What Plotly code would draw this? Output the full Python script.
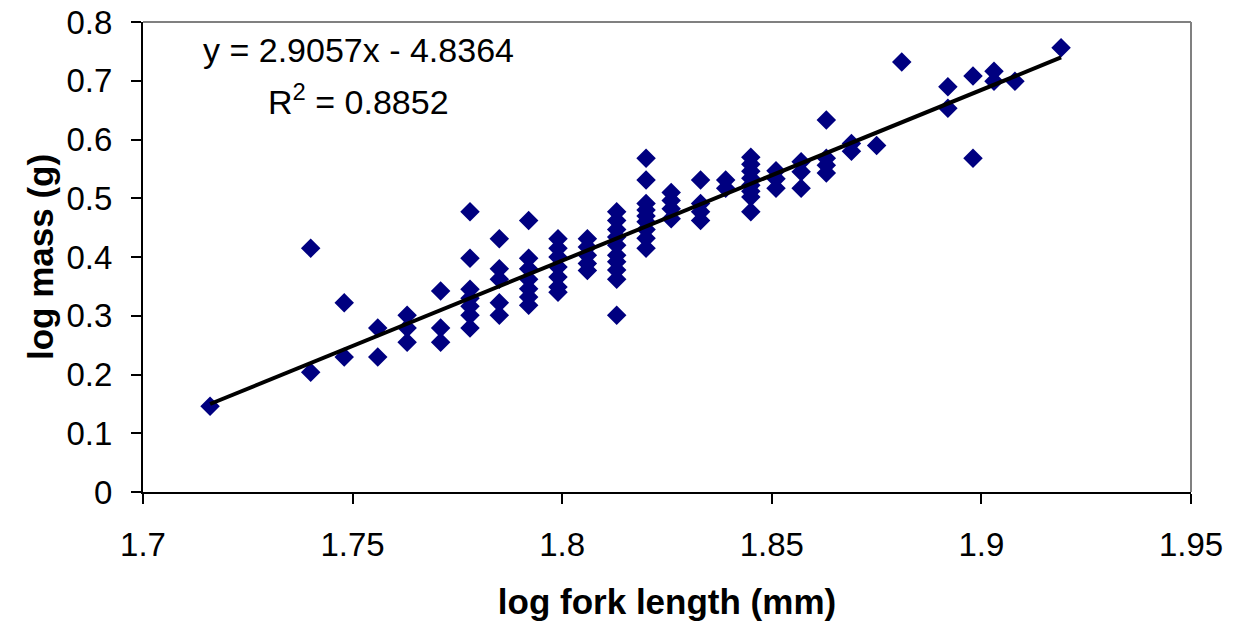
import plotly.graph_objects as go

# Data (log10 fork length in mm, log10 mass in g)
log_fork_length = [
    1.716,
    1.740, 1.740,
    1.748, 1.748,
    1.756, 1.756,
    1.763, 1.763, 1.763,
    1.771, 1.771, 1.771,
    1.778, 1.778, 1.778, 1.778, 1.778, 1.778, 1.778,
    1.785, 1.785, 1.785, 1.785, 1.785,
    1.792, 1.792, 1.792, 1.792, 1.792, 1.792, 1.792,
    1.799, 1.799, 1.799, 1.799, 1.799, 1.799, 1.799,
    1.806, 1.806, 1.806, 1.806, 1.806,
    1.813, 1.813, 1.813, 1.813, 1.813, 1.813, 1.813, 1.813, 1.813, 1.813,
    1.820, 1.820, 1.820, 1.820, 1.820, 1.820, 1.820, 1.820, 1.820,
    1.826, 1.826, 1.826, 1.826,
    1.833, 1.833, 1.833, 1.833,
    1.839, 1.839,
    1.845, 1.845, 1.845, 1.845, 1.845, 1.845, 1.845, 1.845,
    1.851, 1.851, 1.851,
    1.857, 1.857, 1.857,
    1.863, 1.863, 1.863, 1.863,
    1.869, 1.869,
    1.875,
    1.881,
    1.892, 1.892,
    1.898, 1.898,
    1.903, 1.903,
    1.908,
    1.919,
]
log_mass = [
    0.146,
    0.415, 0.204,
    0.322, 0.230,
    0.279, 0.230,
    0.301, 0.279, 0.255,
    0.342, 0.279, 0.255,
    0.477, 0.398, 0.345, 0.330, 0.316, 0.301, 0.279,
    0.431, 0.380, 0.362, 0.322, 0.301,
    0.462, 0.398, 0.380, 0.362, 0.346, 0.332, 0.318,
    0.431, 0.415, 0.400, 0.383, 0.366, 0.349, 0.340,
    0.431, 0.417, 0.403, 0.389, 0.377,
    0.477, 0.462, 0.447, 0.434, 0.420, 0.403, 0.392, 0.378, 0.362, 0.301,
    0.568, 0.531, 0.491, 0.480, 0.470, 0.460, 0.447, 0.432, 0.415,
    0.510, 0.496, 0.482, 0.465,
    0.531, 0.491, 0.477, 0.462,
    0.531, 0.517,
    0.570, 0.558, 0.546, 0.534, 0.522, 0.512, 0.502, 0.477,
    0.547, 0.533, 0.517,
    0.562, 0.545, 0.517,
    0.633, 0.568, 0.556, 0.543,
    0.593, 0.580,
    0.590,
    0.732,
    0.690, 0.653,
    0.708, 0.568,
    0.716, 0.699,
    0.699,
    0.756,
]

# Linear trendline reported on the chart
slope = 2.9057
intercept = -4.8364
r_squared = 0.8852

x_tick_vals = [1.7, 1.75, 1.8, 1.85, 1.9, 1.95]
x_tick_text = ["1.7", "1.75", "1.8", "1.85", "1.9", "1.95"]
y_tick_vals = [0, 0.1, 0.2, 0.3, 0.4, 0.5, 0.6, 0.7, 0.8]
y_tick_text = ["0", "0.1", "0.2", "0.3", "0.4", "0.5", "0.6", "0.7", "0.8"]

FONT = "Liberation Sans, Arial, sans-serif"

trend_x = [min(log_fork_length), max(log_fork_length)]
trend_y = [slope * v + intercept for v in trend_x]

fig = go.Figure()
fig.add_trace(go.Scatter(
    x=log_fork_length, y=log_mass, mode="markers",
    marker=dict(symbol="diamond", size=15, color="#000080", line=dict(width=0)),
    showlegend=False, hoverinfo="x+y",
))
fig.add_trace(go.Scatter(
    x=trend_x, y=trend_y, mode="lines",
    line=dict(color="black", width=4),
    showlegend=False, hoverinfo="skip",
))

fig.update_layout(
    width=1242, height=626,
    margin=dict(l=143, r=51, t=22, b=134, autoexpand=False),
    paper_bgcolor="white", plot_bgcolor="white",
    font=dict(family=FONT, size=33, color="black"),
    xaxis=dict(
        range=[1.7, 1.95], tickvals=x_tick_vals, ticktext=x_tick_text,
        showgrid=False, zeroline=False, automargin=False,
        showline=True, linecolor="black", linewidth=2,
        ticks="outside", ticklen=10, tickwidth=2, tickcolor="black",
        ticklabelstandoff=12,
        tickfont=dict(family=FONT, size=33),
        title=dict(text="<b>log fork length (mm)</b>",
                   font=dict(family=FONT, size=35), standoff=28),
    ),
    yaxis=dict(
        range=[0, 0.8], tickvals=y_tick_vals, ticktext=y_tick_text,
        showgrid=False, zeroline=False, automargin=False,
        showline=True, linecolor="black", linewidth=2,
        ticks="outside", ticklen=10, tickwidth=2, tickcolor="black",
        ticklabelstandoff=12, ticklabeloverflow="allow",
        tickfont=dict(family=FONT, size=33),
        title=dict(text="<b>log mass (g)</b>",
                   font=dict(family=FONT, size=35), standoff=2),
    ),
    shapes=[
        dict(type="line", xref="paper", yref="paper", x0=0, x1=1, y0=1, y1=1,
             line=dict(color="#808080", width=2)),
        dict(type="line", xref="paper", yref="paper", x0=1, x1=1, y0=0, y1=1,
             line=dict(color="#808080", width=2)),
    ],
    annotations=[
        dict(text=f"y = {slope}x - {abs(intercept)}", xref="x", yref="y",
             x=1.7514, y=0.752, showarrow=False,
             font=dict(family=FONT, size=34, color="black")),
        dict(text=f"R<sup>2</sup> = {r_squared}", xref="x", yref="y",
             x=1.7514, y=0.668, showarrow=False,
             font=dict(family=FONT, size=34, color="black")),
    ],
)

# Remove the browser's default 8px body margin so the figure sits at (0, 0).
fig.write_html("out.html",
               config={"displayModeBar": False},
               post_script="document.body.style.margin='0';document.body.style.overflow='hidden';")
